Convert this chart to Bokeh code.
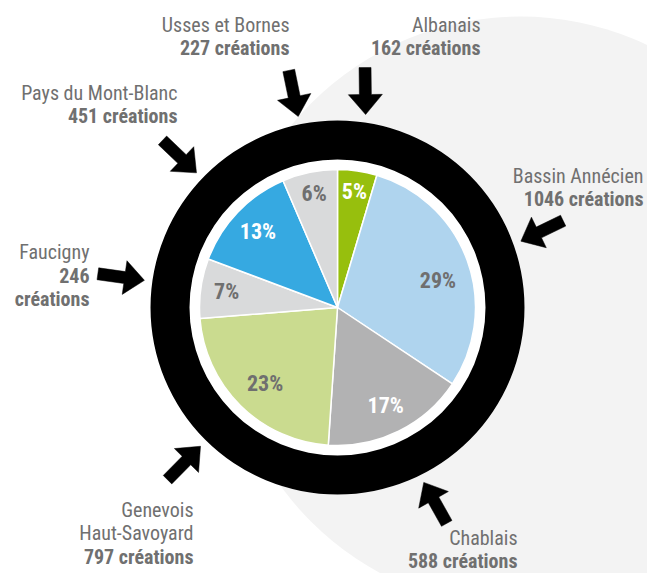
import math
from bokeh.plotting import figure
from bokeh.models import ColumnDataSource, Range1d
from bokeh.core.properties import value
from bokeh.embed import file_html
from bokeh.resources import INLINE

# ---- data ----
regions = ["Albanais", "Bassin Annécien", "Chablais", "Genevois Haut-Savoyard",
           "Faucigny", "Pays du Mont-Blanc", "Usses et Bornes"]
creations = [162, 1046, 588, 797, 246, 451, 227]
pct_labels = ["5%", "29%", "17%", "23%", "7%", "13%", "6%"]
colors = ["#97bf0d", "#afd4ee", "#b2b2b3", "#cadb8f", "#d9dadb", "#36a9e1", "#d9dadb"]
pct_colors = ["white", "#6f6f6f", "white", "#6f6f6f", "#6f6f6f", "white", "#6f6f6f"]
name_lines = [["Albanais"], ["Bassin Annécien"], ["Chablais"], ["Genevois", "Haut-Savoyard"],
              ["Faucigny"], ["Pays du Mont-Blanc"], ["Usses et Bornes"]]
count_lines = [["162 créations"], ["1046 créations"], ["588 créations"], ["797 créations"],
               ["246", "créations"], ["451 créations"], ["227 créations"]]

# ---- layout (pixels, y measured from top) ----
W, H = 647, 573
CX, CY = 337, 307
R_PIE, R_RING_IN, R_RING_OUT, R_WHITE = 138, 148, 187, 187
BG_CX, BG_CY, BG_R = 520, 312, 296
pct_radius = [117, 104, 109, 105, 112, 110, 116]
pct_angle_shift = [0, 5, 0, -1, 0, 0, 0]  # degrees
arrow_dir_shift = [-9, -6, -3, 0, 0, 0, 0]  # degrees
R_TIP = 195
label_right = [480, 643, 517, 193, 89, 177, 289]
label_first_base = [32, 183, 545, 517, 259, 100, 32]
TEXT_SHIFT = 8
LINE_GAP = 23.5
FONT = "'Liberation Sans Narrow', 'Roboto Condensed', 'Arial Narrow', 'Liberation Sans', sans-serif"
GREY = "#707070"

def Y(y):
    return H - y

p = figure(width=W, height=H, x_range=Range1d(0, W), y_range=Range1d(0, H),
           output_backend="svg", toolbar_location=None, min_border=0,
           x_axis_type=None, y_axis_type=None)
p.grid.visible = False
p.outline_line_color = None
p.background_fill_color = "white"
p.border_fill_color = "white"

# background circle
p.circle(x=[BG_CX], y=[Y(BG_CY)], radius=BG_R, fill_color="#f3f3f3", line_color=None)
# white disk and black ring
p.circle(x=[CX], y=[Y(CY)], radius=R_WHITE, fill_color="white", line_color=None)
p.annulus(x=[CX], y=[Y(CY)], inner_radius=R_RING_IN, outer_radius=R_RING_OUT,
          fill_color="black", line_color=None)

# pie
total = float(sum(creations))
starts, ends, mids = [], [], []
cum = 0.0
for v in creations:
    a0 = cum / total
    cum += v
    a1 = cum / total
    starts.append(math.pi / 2 - a0 * 2 * math.pi)
    ends.append(math.pi / 2 - a1 * 2 * math.pi)
    mids.append((a0 + a1) / 2 * 2 * math.pi)  # clockwise from top

src = ColumnDataSource(dict(x=[CX] * len(creations), y=[Y(CY)] * len(creations),
                            start=starts, end=ends, color=colors))
p.wedge(x="x", y="y", radius=R_PIE, start_angle="start", end_angle="end",
        direction="clock", fill_color="color", line_color="white", line_width=1.5, source=src)

# percentage labels
pa = [m + math.radians(d) for m, d in zip(mids, pct_angle_shift)]
pct_src = ColumnDataSource(dict(
    x=[CX + r * math.sin(a) for r, a in zip(pct_radius, pa)],
    y=[Y(CY) + r * math.cos(a) for r, a in zip(pct_radius, pa)],
    text=pct_labels, color=pct_colors))
p.text(x="x", y="y", text="text", text_color="color", source=pct_src,
       text_font=value(FONT), text_font_style="bold", text_font_size="22px",
       text_align="center", text_baseline="middle")

# arrows
L_HEAD, W_HEAD, W_SHAFT, L_TOT = 20, 34, 12, 47
shape = [(0, 0), (L_HEAD, W_HEAD / 2), (L_HEAD, W_SHAFT / 2), (L_TOT, W_SHAFT / 2),
         (L_TOT, -W_SHAFT / 2), (L_HEAD, -W_SHAFT / 2), (L_HEAD, -W_HEAD / 2)]
xs, ys = [], []
for m, sh in zip(mids, arrow_dir_shift):
    tx, ty = CX + R_TIP * math.sin(m), Y(CY) + R_TIP * math.cos(m)
    d = m + math.radians(sh)
    ux, uy = math.sin(d), math.cos(d)
    vx, vy = math.cos(d), -math.sin(d)
    xs.append([tx + t * ux + s * vx for t, s in shape])
    ys.append([ty + t * uy + s * vy for t, s in shape])
p.patches(xs=xs, ys=ys, fill_color="black", line_color="black", line_width=0.5)

# region labels
nx, ny, nt, bx, by, bt = [], [], [], [], [], []
for i in range(len(regions)):
    base = label_first_base[i] - TEXT_SHIFT
    k = 0
    for line in name_lines[i]:
        nx.append(label_right[i]); ny.append(Y(base + k * LINE_GAP)); nt.append(line); k += 1
    for line in count_lines[i]:
        bx.append(label_right[i]); by.append(Y(base + k * LINE_GAP)); bt.append(line); k += 1

p.text(x=nx, y=ny, text=nt, text_color=GREY, text_font=value(FONT),
       text_font_size="20px", text_align="right", text_baseline="alphabetic")
p.text(x=bx, y=by, text=bt, text_color=GREY, text_font=value(FONT), text_font_style="bold",
       text_font_size="20px", text_align="right", text_baseline="alphabetic")

open("out.html", "w").write(file_html(p, INLINE))
